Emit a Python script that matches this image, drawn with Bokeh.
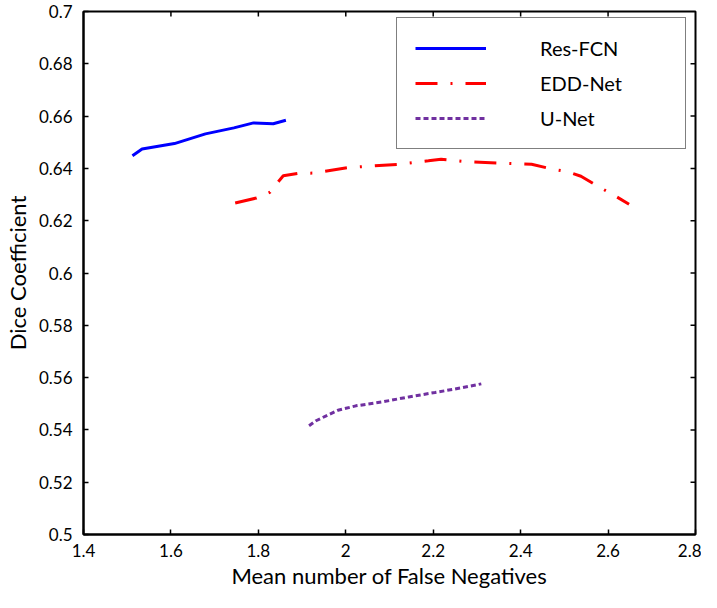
from bokeh.plotting import figure
from bokeh.models import Range1d, FixedTicker, Legend, LegendItem
from bokeh.embed import file_html
from bokeh.resources import INLINE

# ---- data ----
res_fcn_x = [1.512, 1.534, 1.608, 1.679, 1.744, 1.789, 1.834, 1.863]
res_fcn_y = [0.6448, 0.6474, 0.6495, 0.6532, 0.6555, 0.6574, 0.6571, 0.6584]

edd_net_x = [1.747, 1.796, 1.827, 1.848, 1.857, 1.891, 1.925, 2.006, 2.123, 2.189,
             2.218, 2.272, 2.357, 2.425, 2.473, 2.506, 2.538, 2.580, 2.610, 2.648]
edd_net_y = [0.6268, 0.6287, 0.6309, 0.6354, 0.6372, 0.6381, 0.6382, 0.6403, 0.6416, 0.6429,
             0.6435, 0.6426, 0.6420, 0.6416, 0.6397, 0.6388, 0.6370, 0.6328, 0.6301, 0.6263]

u_net_x = [1.916, 1.932, 1.963, 1.982, 2.023, 2.083, 2.144, 2.204, 2.265, 2.310]
u_net_y = [0.5416, 0.5435, 0.5460, 0.5475, 0.5492, 0.5507, 0.5526, 0.5543, 0.5561, 0.5576]

x_ticks = [1.4, 1.6, 1.8, 2.0, 2.2, 2.4, 2.6, 2.8]
x_tick_labels = ["1.4", "1.6", "1.8", "2", "2.2", "2.4", "2.6", "2.8"]
y_ticks = [0.5, 0.52, 0.54, 0.56, 0.58, 0.6, 0.62, 0.64, 0.66, 0.68, 0.7]
y_tick_labels = ["0.5", "0.52", "0.54", "0.56", "0.58", "0.6", "0.62", "0.64", "0.66", "0.68", "0.7"]

series_names = ["Res-FCN", "EDD-Net", "U-Net"]

FONT = "Lato"
X0, X1 = 1.4, 2.8
Y0, Y1 = 0.5, 0.7

W, H = 701, 592
B_LEFT, B_RIGHT, B_TOP, B_BOTTOM = 78, 6, 11, 58
FRAME_W = W - B_LEFT - B_RIGHT
FRAME_H = H - B_TOP - B_BOTTOM
TICK_PX = 5

p = figure(width=W, height=H, output_backend="svg", toolbar_location=None,
           x_range=Range1d(X0, X1), y_range=Range1d(Y0, Y1),
           min_border_left=B_LEFT, min_border_right=B_RIGHT,
           min_border_top=B_TOP, min_border_bottom=B_BOTTOM)
p.background_fill_color = "white"
p.border_fill_color = "white"
p.xgrid.visible = False
p.ygrid.visible = False
p.outline_line_color = "black"
p.outline_line_width = 2

def style_axis(ax, ticks, labels):
    ax.ticker = FixedTicker(ticks=ticks)
    ax.major_label_overrides = {t: l for t, l in zip(ticks, labels)}
    ax.axis_line_color = "black"
    ax.axis_line_width = 2
    ax.major_tick_line_color = "black"
    ax.major_tick_line_width = 1.5
    ax.major_tick_in = TICK_PX
    ax.major_tick_out = 0
    ax.minor_tick_line_color = None
    ax.major_label_text_font = FONT
    ax.major_label_text_color = "black"
    ax.major_label_text_font_size = "17px"
    ax.axis_label_text_font = FONT
    ax.axis_label_text_font_size = "22px"
    ax.axis_label_text_font_style = "normal"
    ax.axis_label_text_color = "black"

style_axis(p.xaxis[0], x_ticks, x_tick_labels)
style_axis(p.yaxis[0], y_ticks, y_tick_labels)
p.xaxis[0].major_label_standoff = 9
p.yaxis[0].major_label_standoff = 11
p.xaxis[0].axis_label_standoff = 2
p.yaxis[0].axis_label_standoff = 5
p.xaxis[0].axis_label = "Mean number of False Negatives"
p.yaxis[0].axis_label = "Dice Coefficient"

# inward ticks on the top and right edges of the box
dy = (Y1 - Y0) * TICK_PX / FRAME_H
dx = (X1 - X0) * TICK_PX / FRAME_W
inner_x = x_ticks[1:-1]
inner_y = y_ticks[1:-1]
p.segment(x0=inner_x, y0=[Y1] * len(inner_x), x1=inner_x, y1=[Y1 - dy] * len(inner_x),
          line_color="black", line_width=1.5)
p.segment(x0=[X1] * len(inner_y), y0=inner_y, x1=[X1 - dx] * len(inner_y), y1=inner_y,
          line_color="black", line_width=1.5)

r1 = p.line(res_fcn_x, res_fcn_y, line_color="#0000FF", line_width=3)
r2 = p.line(edd_net_x, edd_net_y, line_color="#FF0000", line_width=3, line_dash="22 13 2 13")
r3 = p.line(u_net_x, u_net_y, line_color="#7030A0", line_width=3, line_dash="5 3")

LEG_PAD, LEG_SPACING, LEG_ROW = 18, 11, 24
LEG_H = 2 * LEG_PAD + 3 * LEG_ROW + 2 * LEG_SPACING
legend = Legend(items=[LegendItem(label=series_names[0], renderers=[r1]),
                       LegendItem(label=series_names[1], renderers=[r2]),
                       LegendItem(label=series_names[2], renderers=[r3])],
                location=(313, FRAME_H - 8 - LEG_H))
legend.margin = 0
legend.padding = LEG_PAD
legend.spacing = LEG_SPACING
legend.glyph_width = 71
legend.glyph_height = LEG_ROW
legend.label_height = LEG_ROW
legend.label_standoff = 54
legend.label_width = 127
legend.label_text_font = FONT
legend.label_text_font_size = "20px"
legend.label_text_color = "black"
legend.border_line_color = "black"
legend.border_line_width = 1.5
legend.background_fill_color = "white"
legend.background_fill_alpha = 1
p.add_layout(legend, "center")

open("out.html", "w").write(file_html(p, INLINE))
